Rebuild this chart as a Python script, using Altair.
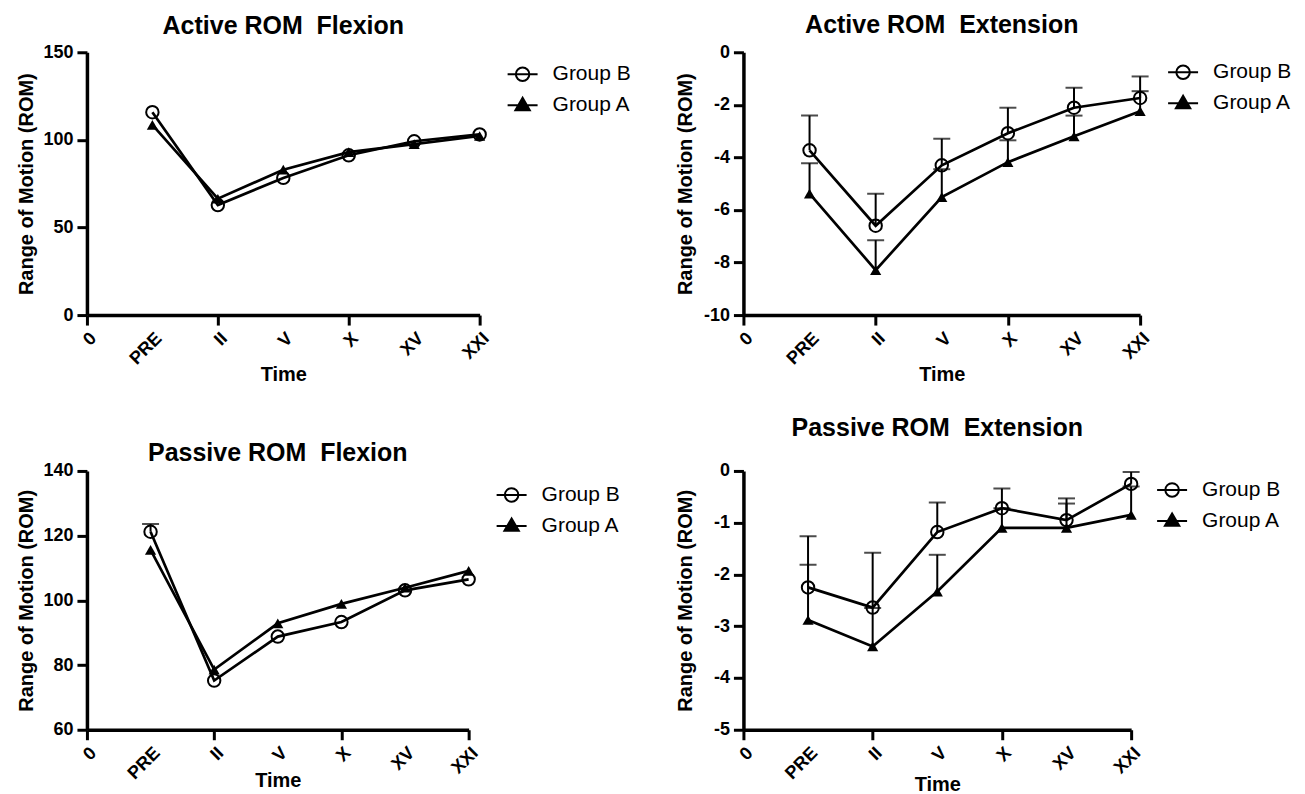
import json
import altair as alt
import pandas as pd

# ---------------- data ----------------
time_labels = ["0", "PRE", "II", "V", "X", "XV", "XXI"]
time_pos = [1, 2, 3, 4, 5, 6]
groups = ["Group B", "Group A"]

titles = ["Active ROM\u00a0 Flexion", "Active ROM\u00a0 Extension",
          "Passive ROM\u00a0 Flexion", "Passive ROM\u00a0 Extension"]

# Active ROM Flexion
af_b = [115.8, 62.8, 78.3, 91.2, 99.2, 103.1]
af_b_up = [None, None, None, None, None, None]
af_a = [108.6, 66.4, 83.0, 93.0, 97.6, 102.2]
af_a_up = [None, None, None, None, None, None]

# Active ROM Extension
ae_b = [-3.73, -6.60, -4.30, -3.08, -2.11, -1.74]
ae_b_up = [-2.41, -5.38, -3.29, -2.11, -1.35, -0.92]
ae_a = [-5.38, -8.29, -5.51, -4.18, -3.20, -2.24]
ae_a_up = [-4.22, -7.15, -4.45, -3.35, -2.41, -1.48]

# Passive ROM Flexion
pf_b = [121.2, 75.2, 88.8, 93.3, 103.1, 106.5]
pf_b_up = [123.6, None, None, None, None, None]
pf_a = [115.6, 78.6, 92.9, 98.9, 103.9, 109.1]
pf_a_up = [None, None, None, None, None, None]

# Passive ROM Extension
pe_b = [-2.25, -2.64, -1.18, -0.72, -0.95, -0.25]
pe_b_up = [-1.26, -1.58, -0.61, -0.34, -0.53, -0.02]
pe_a = [-2.88, -3.39, -2.33, -1.10, -1.10, -0.85]
pe_a_up = [-1.81, -2.65, -1.62, -0.72, -0.63, -0.30]

y_domains = [[0, 150], [-10, 0], [60, 140], [-5, 0]]
y_ticks = [[0, 50, 100, 150], [-10, -8, -6, -4, -2, 0],
           [60, 80, 100, 120, 140], [-5, -4, -3, -2, -1, 0]]

FONT = "Liberation Sans"
BLACK = "#000000"

# legend symbols: line through an open circle / a filled triangle
sym_b = "M-1,0L1,0M0.45,0A0.45,0.45,0,1,1,-0.45,0A0.45,0.45,0,1,1,0.45,0Z"
sym_a = "M-1,0L1,0M0,-0.5L0.48,0.33L-0.48,0.33Z"

label_expr = json.dumps(time_labels) + "[datum.value]"


def panel(title, b, b_up, a, a_up, ydom, yt, w, h, t_off, lx, ly, ytx, xty):
    rows = []
    for g, vals, ups in (("Group B", b, b_up), ("Group A", a, a_up)):
        for t, v, u in zip(time_pos, vals, ups):
            rows.append({"t": t, "value": v, "upper": u, "group": g})
    df = pd.DataFrame(rows)
    base = alt.Chart(df)

    x = alt.X("t:Q", scale=alt.Scale(domain=[0, 6], nice=False, zero=False),
              axis=alt.Axis(values=list(range(7)), labelExpr=label_expr,
                            labelAngle=-45, title="Time", titleY=xty,
                            titleBaseline="alphabetic",
                            tickColor={"condition": {"test": "datum.value % 2 === 0",
                                                     "value": BLACK},
                                       "value": "transparent"}))
    yscale = alt.Scale(domain=ydom, nice=False, zero=False)
    yaxis = alt.Axis(values=yt, title="Range of Motion (ROM)", titleX=ytx,
                     labelExpr="'' + datum.value")

    line = base.mark_line(color=BLACK, strokeWidth=2.7).encode(
        x=x, y=alt.Y("value:Q", scale=yscale, axis=yaxis), detail="group:N")
    err = base.transform_filter("isValid(datum.upper)")
    stem = err.mark_rule(color=BLACK, strokeWidth=2).encode(
        x=x, y=alt.Y("value:Q", scale=yscale, axis=yaxis), y2="upper:Q")
    cap = err.mark_tick(orient="horizontal", color=BLACK, thickness=2, size=17).encode(
        x=x, y=alt.Y("upper:Q", scale=yscale, axis=yaxis))
    pt_b = base.transform_filter("datum.group === 'Group B'").mark_point(
        shape="circle", filled=False, stroke=BLACK, strokeWidth=2, size=155, opacity=1
    ).encode(x=x, y=alt.Y("value:Q", scale=yscale, axis=yaxis))
    pt_a = base.transform_filter("datum.group === 'Group A'").mark_point(
        shape="triangle-up", filled=True, fill=BLACK, size=125, opacity=1
    ).encode(x=x, y=alt.Y("value:Q", scale=yscale, axis=yaxis))

    leg = alt.Legend(
        title=None, orient="none", legendX=lx, legendY=ly,
        symbolStrokeColor=BLACK, symbolStrokeWidth=2,
    )
    legend_df = pd.DataFrame({"series": groups})
    legend_layer = alt.Chart(legend_df).transform_filter("false").mark_point(
        opacity=1, strokeWidth=2
    ).encode(
        shape=alt.Shape("series:N", scale=alt.Scale(domain=groups, range=[sym_b, sym_a]),
                        legend=leg),
        fill=alt.Fill("series:N", scale=alt.Scale(domain=groups, range=["white", BLACK]),
                      legend=leg),
        stroke=alt.Stroke("series:N", scale=alt.Scale(domain=groups, range=[BLACK, BLACK]),
                          legend=leg),
    )

    return alt.layer(line, stem, cap, pt_b, pt_a, legend_layer).properties(
        width=w, height=h,
        title=alt.TitleParams(title, fontSize=25, fontWeight="bold", font=FONT,
                              color=BLACK, anchor="middle", frame="group", offset=t_off),
    )


p1 = panel(titles[0], af_b, af_b_up, af_a, af_a_up, y_domains[0], y_ticks[0],
           393, 263, 4, 420, 6, -50, 65)
p2 = panel(titles[1], ae_b, ae_b_up, ae_a, ae_a_up, y_domains[1], y_ticks[1],
           397, 263, 5, 424, 4, -48, 65)
p3 = panel(titles[2], pf_b, pf_b_up, pf_a, pf_a_up, y_domains[2], y_ticks[2],
           382, 259, -4, 409, 8, -50, 57)
p4 = panel(titles[3], pe_b, pe_b_up, pe_a, pe_a_up, y_domains[3], y_ticks[3],
           388, 259, 21, 413, 3, -48, 61)

chart = alt.concat(
    p1, p2, p3, p4, columns=2, spacing={"row": 156, "column": 264},
    bounds="flush", align="each",
).resolve_scale(
    shape="independent", fill="independent", stroke="independent"
).resolve_legend(
    shape="independent", fill="independent", stroke="independent"
).properties(
    padding={"left": 8, "top": 5, "right": 5, "bottom": 0},
).configure_view(stroke=None).configure_axis(
    labelFont=FONT, labelFontSize=18, labelFontWeight="bold", labelColor=BLACK,
    titleFont=FONT, titleFontSize=20, titleFontWeight="bold", titleColor=BLACK,
    domainColor=BLACK, domainWidth=3.5, tickColor=BLACK, tickWidth=3, tickSize=10,
    labelPadding=4, grid=False,
).configure_legend(
    labelFont=FONT, labelFontSize=21, labelColor=BLACK, symbolSize=900,
    symbolStrokeWidth=2, symbolStrokeColor=BLACK, labelOffset=14, rowPadding=4,
    padding=0,
)

chart.save("out.html", embed_options={"renderer": "svg", "actions": False})
